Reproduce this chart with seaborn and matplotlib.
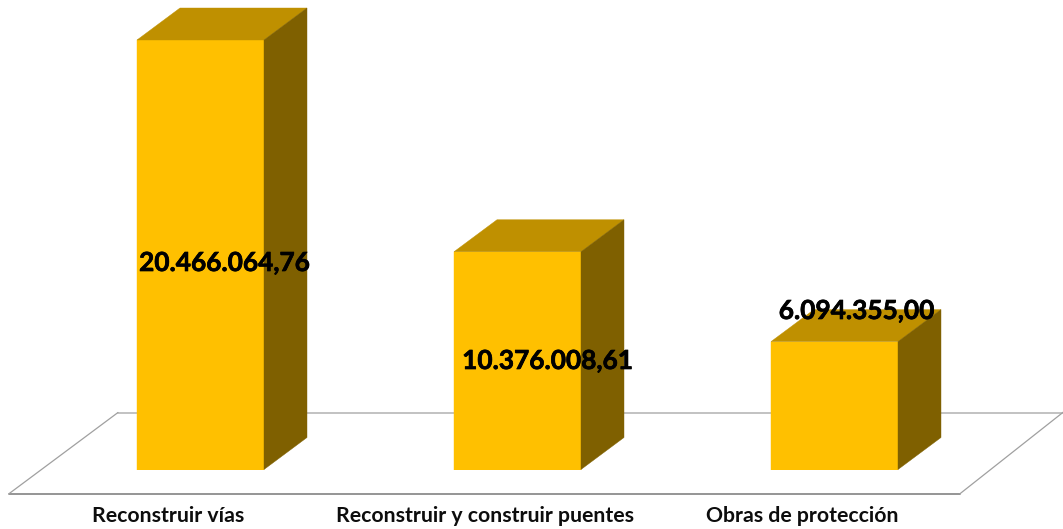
import numpy as np
import pandas as pd
import matplotlib
matplotlib.use("Agg")
import matplotlib.pyplot as plt
import matplotlib.patheffects as pe
from matplotlib.patches import Polygon
from matplotlib.lines import Line2D
from matplotlib.transforms import Affine2D
import seaborn as sns

categories = ["Reconstruir vías", "Reconstruir y construir puentes", "Obras de protección"]
values = [20466064.76, 10376008.61, 6094355.00]
value_labels = ["20.466.064,76", "10.376.008,61", "6.094.355,00"]

W, H = 1063, 529
FRONT, TOP, SIDE = "#FFC000", "#BF9000", "#7F6000"
BASE_PX = 469.5
TOP_PX = 40.0
CENTER_PX, STEP_PX = 200.5, 317.0
BAR_W = 127.0 / 317.0
DEPTH_X_PX, DEPTH_Y_PX = 43.0, 32.0
LABEL_PX = [(224.5, 263), (547.5, 361), (856.5, 311)]
TICK_SHIFT = -32.5 / 317.0

sns.set_theme(style="white")
plt.rcParams["font.family"] = ["Lato", "DejaVu Sans"]

fig = plt.figure(figsize=(W / 100, H / 100), dpi=100, facecolor="white")
ax = fig.add_axes([0, (H - BASE_PX) / H, 1, BASE_PX / H])
ax.patch.set_alpha(0)

df = pd.DataFrame({"categoria": categories, "valor": values})
sns.barplot(data=df, x="categoria", y="valor", color=FRONT, saturation=1,
            width=BAR_W, ax=ax, zorder=3, edgecolor=FRONT, linewidth=0.3)

per_px = max(values) / (BASE_PX - TOP_PX)
ax.set_xlim(-CENTER_PX / STEP_PX, (W - CENTER_PX) / STEP_PX)
ax.set_ylim(0, BASE_PX * per_px)
ax.set_xlabel("")
ax.set_ylabel("")
ax.set_yticks([])
ax.set_xticks(np.arange(len(categories)) + TICK_SHIFT)
ax.set_xticklabels(categories, fontsize=15.3, fontweight="bold", color="#0d0d0d")
ax.tick_params(axis="x", length=0, pad=26.5)
sns.despine(ax=ax, left=True, bottom=True)

# 3D faces derived from each bar's own geometry
dx = DEPTH_X_PX / STEP_PX
dy = DEPTH_Y_PX * per_px
for bar in ax.patches[:len(values)]:
    x0, x1 = bar.get_x(), bar.get_x() + bar.get_width()
    h = bar.get_height()
    ax.add_patch(Polygon([(x0, h), (x1, h), (x1 + dx, h + dy), (x0 + dx, h + dy)],
                         closed=True, facecolor=TOP, edgecolor=TOP, lw=0.3, zorder=3, clip_on=False))
    ax.add_patch(Polygon([(x1, 0), (x1 + dx, dy), (x1 + dx, h + dy), (x1, h)],
                         closed=True, facecolor=SIDE, edgecolor=SIDE, lw=0.3, zorder=3, clip_on=False))

# floor plane, in figure pixels
px = Affine2D().scale(1, -1).translate(0, H)
for (xs, ys, col, lw) in [
    ([9, 960], [493.7, 493.7], "#8C8C8C", 1.3),
    ([118, 1063], [412.5, 412.5], "#BDBDBD", 1.3),
    ([9, 118], [493.7, 412.5], "#A0A0A0", 0.9),
    ([960, 1066], [493.7, 410], "#A0A0A0", 0.9),
]:
    fig.add_artist(Line2D(xs, ys, color=col, lw=lw, transform=px, zorder=0))

for text, (lx, ly) in zip(value_labels, LABEL_PX):
    fig.text(lx, ly, text, transform=px, ha="center", va="center",
             fontsize=18.9, fontweight="bold", color="black", zorder=5,
             path_effects=[pe.withStroke(linewidth=0.5, foreground="black")])

fig.savefig("out.png", dpi=100, facecolor="white")
